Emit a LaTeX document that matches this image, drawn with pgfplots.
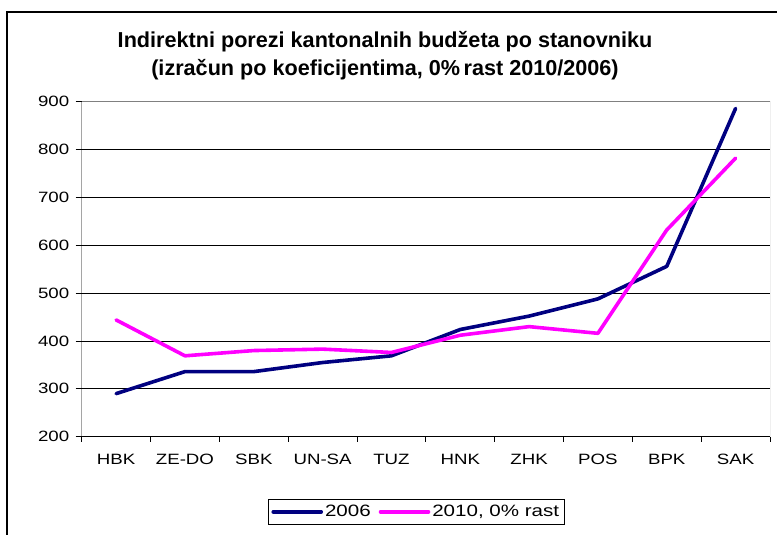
\documentclass[border=0pt]{standalone}
\usepackage{fontspec}
\setmainfont{Liberation Sans}
\newfontfamily\wide[FakeStretch=1.25]{Liberation Sans}
\usepackage{pgfplots}
\pgfplotsset{compat=1.18}
\definecolor{navyline}{RGB}{0,0,128}
\definecolor{pinkline}{RGB}{255,0,255}

\begin{document}
\begin{tikzpicture}
\useasboundingbox (0,0) rectangle (777bp,535bp);
% outer frame (bottom and right lie outside the cropped picture)
\draw[line width=2bp] (7bp,-20bp) -- (7bp,523.3bp) -- (800bp,523.3bp);
\node[align=center, font=\bfseries\fontsize{21.7}{28}\selectfont] at (385bp,479bp)
  {Indirektni porezi kantonalnih budžeta po stanovniku\\(izračun po koeficijentima, 0\%\,rast 2010/2006)};
\begin{axis}[
  at={(81.7bp,98.3bp)}, anchor=south west,
  scale only axis, width=688.3bp, height=335bp,
  xmin=-0.5, xmax=9.5, ymin=200, ymax=900,
  xtick={0,...,9},
  xticklabels={HBK,ZE-DO,SBK,UN-SA,TUZ,HNK,ZHK,POS,BPK,SAK},
  minor xtick={-0.5,0.5,...,9.5},
  ytick={200,300,...,900},
  xtick pos=bottom, ytick pos=left,
  tick align=outside, major tick length=6bp, minor tick length=5bp,
  major x tick style={draw=none}, minor x tick style={black, line width=0.8bp},
  major y tick style={black, line width=0.8bp},
  ymajorgrids, major grid style={black, line width=0.8bp},
  axis line style={draw=none},
  ticklabel style={font=\wide\fontsize{15}{18}\selectfont},
  /pgf/number format/assume math mode=true,
  xticklabel style={yshift=-8bp},
  yticklabel style={xshift=-3bp},
  legend style={at={(0.2707,-0.186)}, anchor=north west, draw=black, line width=0.8bp,
    font=\wide\fontsize{16.5}{19}\selectfont, legend columns=2,
    inner xsep=3bp, inner ysep=4bp,
    /tikz/every even column/.append style={column sep=6bp}},
  legend image code/.code={\draw[#1, line cap=round] (0bp,0bp) -- (48bp,0bp);},
]
\addplot[navyline, line width=3.6bp, line cap=round, line join=round] coordinates {
  (0,290) (1,336) (2,336) (3,355) (4,369) (5,424) (6,452) (7,488) (8,556) (9,886)};
\addplot[pinkline, line width=3.6bp, line cap=round, line join=round] coordinates {
  (0,444) (1,369) (2,380) (3,383) (4,376) (5,412) (6,430) (7,416) (8,632) (9,782)};
\legend{2006, {2010, 0\% rast}}
\draw[gray, line width=1bp] (rel axis cs:0,1) -- (rel axis cs:1,1) -- (rel axis cs:1,0);
\draw[black, line width=1bp] (rel axis cs:0,1) -- (rel axis cs:0,0) -- (rel axis cs:1,0);
\end{axis}
\end{tikzpicture}
\end{document}
